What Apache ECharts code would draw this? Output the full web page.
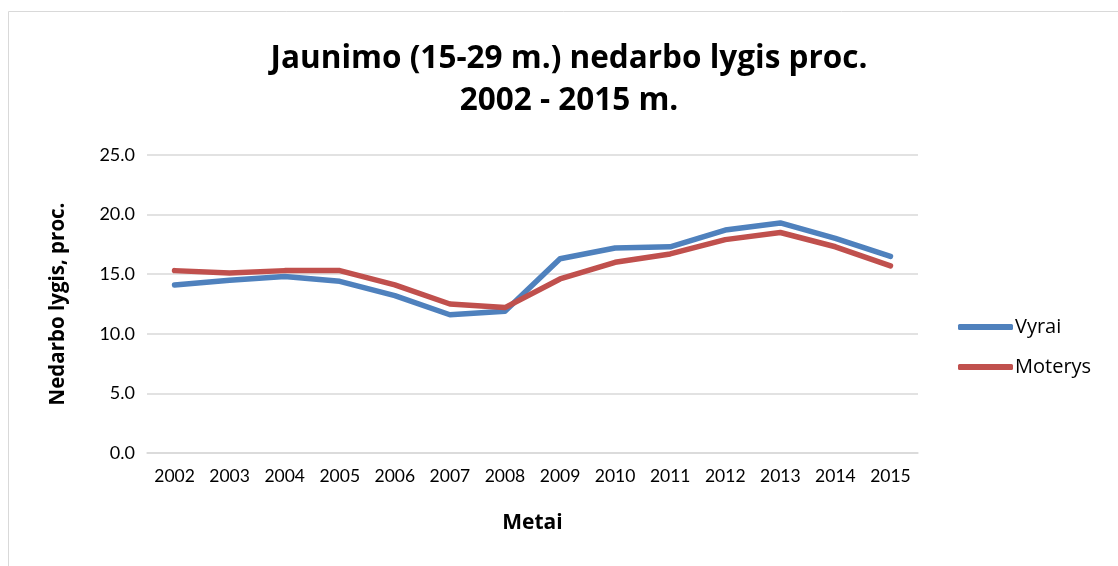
<!DOCTYPE html>
<html>
<head>
<meta charset="utf-8">
<script src="https://cdn.jsdelivr.net/npm/echarts@6/dist/echarts.min.js"></script>
<style>
  html, body { margin: 0; padding: 0; background: #fff; }
  #chart { width: 1118px; height: 566px; }
</style>
</head>
<body>
<div id="chart"></div>
<script>
const years = ['2002', '2003', '2004', '2005', '2006', '2007', '2008',
  '2009', '2010', '2011', '2012', '2013', '2014', '2015']
const vyrai = [14.1, 14.5, 14.8, 14.4, 13.2, 11.6, 11.9, 16.3, 17.2, 17.3, 18.7, 19.3, 18.0, 16.5]
const moterys = [15.3, 15.1, 15.3, 15.3, 14.1, 12.5, 12.2, 14.6, 16.0, 16.7, 17.9, 18.5, 17.3, 15.7]

const font = 'Lato, "Open Sans", sans-serif'
const boldFont = '"Open Sans", Lato, sans-serif'
const chart = echarts.init(document.getElementById('chart'))

const option = {
  animation: false,
  textStyle: { fontFamily: font },
  title: {
    text: 'Jaunimo (15-29 m.) nedarbo lygis proc.\n2002 - 2015 m.',
    left: 564,
    top: 33,
    textAlign: 'center',
    textStyle: { fontSize: 31.5, fontWeight: 'bold', color: '#000', lineHeight: 42, fontFamily: boldFont }
  },
  graphic: [{
    type: 'rect',
    shape: { x: 8.5, y: 11.5, width: 1200, height: 700 },
    style: { fill: 'none', stroke: '#d9d9d9', lineWidth: 1 }
  }],
  color: ['#4F81BD', '#C0504D'],
  legend: {
    orient: 'vertical',
    left: 953,
    top: 312,
    itemWidth: 55,
    itemHeight: 6,
    itemGap: 20,
    icon: 'roundRect',
    textStyle: { fontSize: 20, color: '#000', padding: [0, 0, 0, -3], fontFamily: boldFont },
    data: ['Vyrai', 'Moterys']
  },
  grid: { left: 147, right: 200, top: 155, bottom: 113 },
  xAxis: {
    type: 'category',
    data: years,
    boundaryGap: true,
    name: 'Metai',
    nameLocation: 'middle',
    nameGap: 60,
    nameTextStyle: { fontSize: 21, fontWeight: 'bold', color: '#000', fontFamily: boldFont },
    axisLine: { lineStyle: { color: '#d9d9d9', width: 1.5 } },
    axisTick: { show: false },
    axisLabel: { fontSize: 17.5, color: '#000', margin: 14 }
  },
  yAxis: {
    type: 'value',
    min: 0,
    max: 25,
    interval: 5,
    name: 'Nedarbo lygis, proc.',
    nameLocation: 'middle',
    nameGap: 78,
    nameTextStyle: { fontSize: 20.5, fontWeight: 'bold', color: '#000', fontFamily: boldFont },
    axisLine: { show: false },
    axisTick: { show: false },
    axisLabel: { fontSize: 18, color: '#000', margin: 12, formatter: v => v.toFixed(1) },
    splitLine: { lineStyle: { color: '#d9d9d9', width: 1.5 } }
  },
  series: [
    {
      name: 'Vyrai',
      type: 'line',
      data: vyrai,
      symbol: 'none',
      lineStyle: { width: 5.5, cap: 'round', join: 'round' }
    },
    {
      name: 'Moterys',
      type: 'line',
      data: moterys,
      symbol: 'none',
      lineStyle: { width: 5.5, cap: 'round', join: 'round' }
    }
  ]
}
chart.setOption(option)
</script>
</body>
</html>
